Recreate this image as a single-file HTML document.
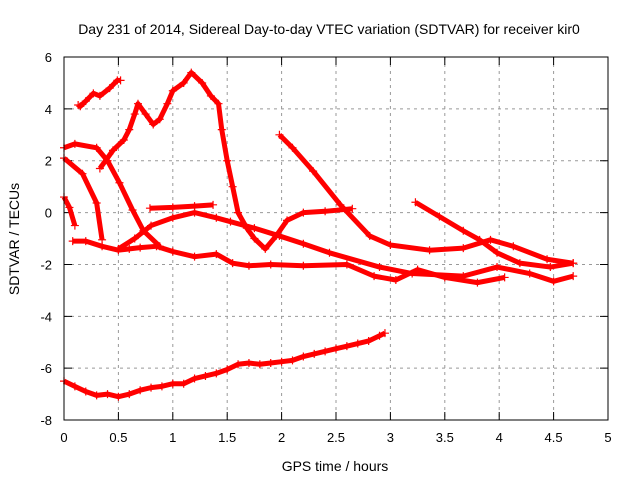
<!DOCTYPE html>
<html><head><meta charset="utf-8"><style>
body{margin:0;background:#fff;}
svg{display:block;font-family:"Liberation Sans",sans-serif;}
</style></head><body>
<svg id="chart" width="640" height="480">
<text x="329" y="34" font-size="14" text-anchor="middle">Day 231 of 2014, Sidereal Day-to-day VTEC variation (SDTVAR) for receiver kir0</text>
<text x="335" y="471" font-size="14" text-anchor="middle">GPS time / hours</text>
<text transform="translate(19,239) rotate(-90)" font-size="14" text-anchor="middle">SDTVAR / TECUs</text>
<g id="grid"></g><g id="series"></g>
<rect x="64" y="57" width="544" height="363" fill="none" stroke="#000"/>
</svg>
<script>
const xTicks=[0,0.5,1,1.5,2,2.5,3,3.5,4,4.5,5];
const yTicks=[-8,-6,-4,-2,0,2,4,6];
const s1=[[0.13,4.15],[0.15,4.1],[0.2,4.3],[0.27,4.6],[0.33,4.5],[0.42,4.8],[0.49,5.1],[0.52,5.1]];
const s2=[[0.33,1.7],[0.45,2.4],[0.55,2.8],[0.6,3.2],[0.65,3.8],[0.68,4.2],[0.75,3.8],[0.82,3.4],[0.88,3.6],[0.95,4.2],[1.0,4.7],[1.1,5.0],[1.17,5.4],[1.27,5.0],[1.35,4.5],[1.42,4.2],[1.45,3.2],[1.5,2.0],[1.55,1.0],[1.6,0.0],[1.68,-0.6],[1.75,-1.0],[1.85,-1.4],[1.95,-0.9],[2.05,-0.3],[2.2,0.0],[2.4,0.05],[2.65,0.15]];
const s3=[[0,2.5],[0.1,2.65],[0.3,2.5],[0.4,2.0],[0.51,1.15],[0.63,0.1],[0.73,-0.7],[0.88,-1.3]];
const s4=[[0,0.6],[0.05,0.2],[0.1,-0.5]];
const s5=[[0,2.1],[0.17,1.5],[0.3,0.37],[0.35,-1.05]];
const s6=[[0.79,0.17],[1.0,0.2],[1.2,0.25],[1.37,0.3]];
const s7=[[0.08,-1.1],[0.2,-1.1],[0.35,-1.3],[0.5,-1.45],[0.6,-1.4],[0.7,-1.35],[0.85,-1.3],[1.0,-1.5],[1.2,-1.7],[1.4,-1.6],[1.55,-1.95],[1.7,-2.05],[1.9,-2.0],[2.2,-2.05],[2.6,-2.0],[2.85,-2.45],[3.05,-2.6],[3.25,-2.2],[3.5,-2.5],[3.8,-2.7],[4.05,-2.5]];
const s8=[[0.5,-1.4],[0.65,-1.0],[0.8,-0.5],[1.0,-0.2],[1.2,0.0],[1.4,-0.2],[1.53,-0.35],[1.75,-0.6],[1.98,-0.9],[2.2,-1.2],[2.44,-1.55],[2.9,-2.1],[3.2,-2.35],[3.67,-2.45],[3.98,-2.1],[4.28,-2.35],[4.5,-2.65],[4.68,-2.45]];
const s9=[[1.98,3.0],[2.1,2.5],[2.29,1.6],[2.54,0.3],[2.81,-0.9],[3.0,-1.25],[3.36,-1.45],[3.67,-1.37],[3.92,-1.05],[4.13,-1.3],[4.44,-1.8],[4.68,-1.95]];
const s10=[[3.23,0.4],[3.45,-0.15],[3.67,-0.7],[3.82,-1.05],[3.98,-1.55],[4.19,-1.95],[4.47,-2.1],[4.68,-1.95]];
const s11=[[0,-6.5],[0.1,-6.7],[0.2,-6.9],[0.3,-7.05],[0.4,-7.0],[0.5,-7.1],[0.6,-7.0],[0.7,-6.85],[0.8,-6.75],[0.9,-6.7],[1.0,-6.6],[1.1,-6.6],[1.2,-6.4],[1.3,-6.3],[1.4,-6.2],[1.5,-6.05],[1.6,-5.85],[1.7,-5.8],[1.8,-5.85],[1.9,-5.8],[2.0,-5.75],[2.1,-5.7],[2.2,-5.55],[2.3,-5.45],[2.4,-5.35],[2.5,-5.25],[2.6,-5.15],[2.7,-5.05],[2.8,-4.95],[2.9,-4.75],[2.95,-4.65]];
const allSeries=[s1,s2,s3,s4,s5,s6,s7,s8,s9,s10,s11];
const NS="http://www.w3.org/2000/svg";
const X=v=>64+v*108.8, Y=v=>212.6-v*25.93;
const grid=document.getElementById('grid'), ser=document.getElementById('series');
function mk(tag,at,parent){const e=document.createElementNS(NS,tag);for(const k in at)e.setAttribute(k,at[k]);parent.appendChild(e);return e;}
xTicks.forEach(t=>{
 const gl=mk('line',{x1:X(t),x2:X(t),y1:57,y2:420,stroke:'#999','stroke-dasharray':'3,4'},grid);
 
 
 const tk=mk('path',{d:`M${X(t)},420v-8M${X(t)},57v8`,stroke:'#000'},grid);
 
 
 const tx=mk('text',{x:X(t),y:442,'font-size':13,'text-anchor':'middle'},grid);tx.textContent=t;
 
 
});
yTicks.forEach(t=>{
 const gl=mk('line',{x1:64,x2:608,y1:Y(t),y2:Y(t),stroke:'#999','stroke-dasharray':'3,4'},grid);
 
 
 const tk=mk('path',{d:`M64,${Y(t)}h8M608,${Y(t)}h-8`,stroke:'#000'},grid);
 
 
 const tx=mk('text',{x:52,y:Y(t)+5,'font-size':13,'text-anchor':'end'},grid);tx.textContent=t;
 
 
});
allSeries.forEach((s,i)=>{
 const g=mk('g',{},ser);
 
 
 const pl=mk('polyline',{points:s.map(p=>X(p[0])+','+Y(p[1])).join(' '),fill:'none',stroke:'#f00','stroke-width':5,'stroke-linejoin':'round'},g);
 
 
 s.forEach(p=>{
  const m=mk('path',{d:`M${X(p[0])-4},${Y(p[1])}h8M${X(p[0])},${Y(p[1])-4}v8`,stroke:'#f00','stroke-width':1.2},g);
  
  
 });
});
</script>
</body></html>
